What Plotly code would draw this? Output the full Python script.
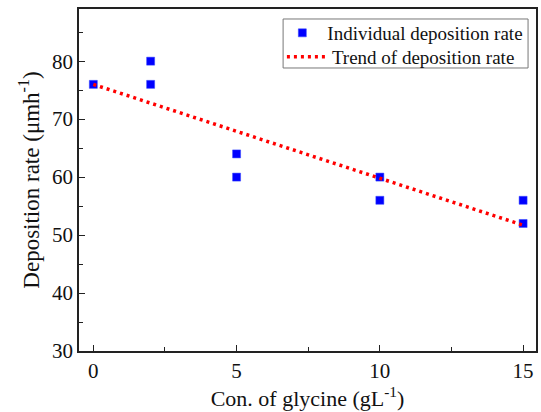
import plotly.graph_objects as go

# Data
glycine = [0, 2, 2, 5, 5, 10, 10, 15, 15]
rate = [76, 80, 76, 64, 60, 60, 56, 56, 52]
trend_x = [0, 15]
trend_y = [76, 51.7]

FONT = "Liberation Serif"

fig = go.Figure()
fig.add_trace(go.Scatter(
    x=glycine, y=rate, mode="markers", name="Individual deposition rate",
    marker=dict(symbol="square", size=8, color="#0000ff",
                line=dict(width=0.5, color="#3344ff")),
    legend="legend",
))
fig.add_trace(go.Scatter(
    x=trend_x, y=trend_y, mode="lines", name="Trend of deposition rate",
    line=dict(color="#ff0000", width=3.5, dash="3px,4px"),
    legend="legend2",
))

axis_common = dict(
    showline=True, linecolor="#222222", linewidth=1.5, mirror=True,
    ticks="inside", tickcolor="#222222", tickwidth=1.2, ticklen=6,
    showgrid=False, zeroline=False,
    tickfont=dict(family=FONT, size=21, color="#111111"),
)

leg_common = dict(
    xanchor="left", yanchor="middle",
    bgcolor="rgba(0,0,0,0)", borderwidth=0,
    font=dict(family=FONT, size=19, color="#111111"),
    itemwidth=40,
)

fig.update_layout(
    width=541, height=412,
    margin=dict(l=79, r=3, t=9, b=61),
    paper_bgcolor="white", plot_bgcolor="white",
    font=dict(family=FONT, color="#111111"),
    xaxis=dict(
        range=[-0.5, 15.45], tickmode="linear", tick0=0, dtick=5,
        minor=dict(ticks="inside", ticklen=4, dtick=2.5, tickcolor="#222222", tickwidth=1.2),
        title=dict(text="Con. of glycine (gL<sup>-1</sup>)", font=dict(family=FONT, size=22), standoff=8),
        **axis_common,
    ),
    yaxis=dict(
        range=[30, 89], tickmode="linear", tick0=30, dtick=10,
        minor=dict(ticks="inside", ticklen=4, dtick=5, tickcolor="#222222", tickwidth=1.2),
        title=dict(text="Deposition rate (μmh<sup>-1</sup>)", font=dict(family=FONT, size=23), standoff=6),
        **axis_common,
    ),
    legend=dict(x=0.434, y=0.9298, **leg_common),
    legend2=dict(x=0.444, y=0.8596, **leg_common),
    shapes=[dict(
        type="rect", xref="paper", yref="paper",
        x0=0.4466, x1=0.9826, y0=0.8275, y1=0.9708,
        line=dict(color="#777777", width=1), fillcolor="rgba(0,0,0,0)",
        layer="above",
    )],
    showlegend=True,
)

fig.write_html("out.html")
